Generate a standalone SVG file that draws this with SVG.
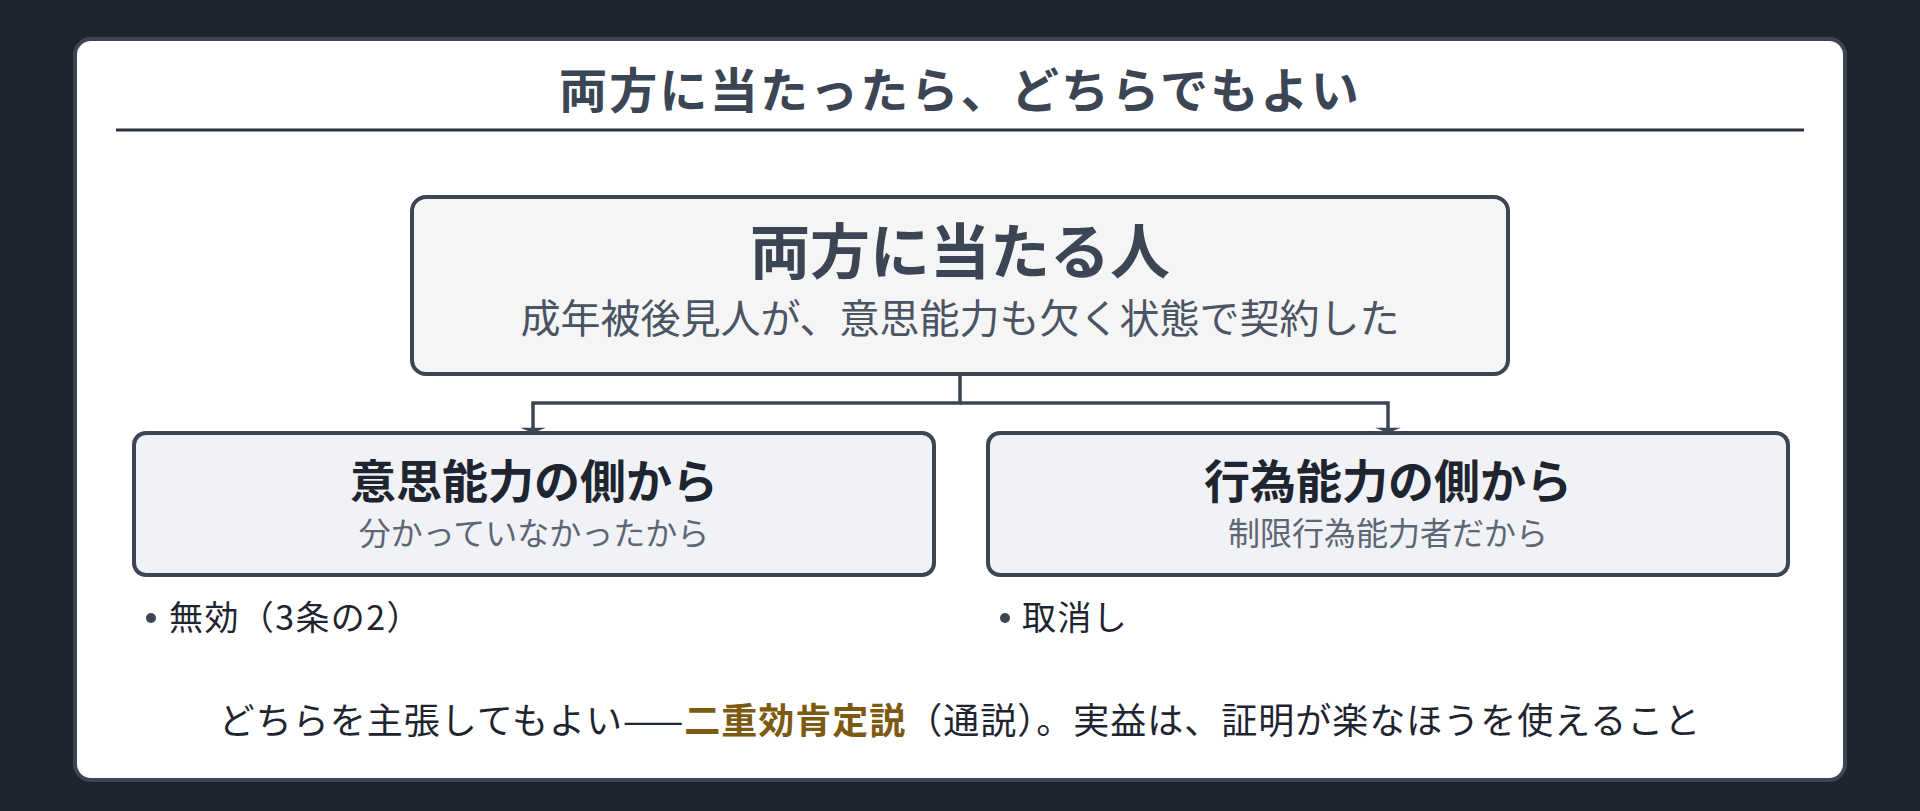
<svg xmlns="http://www.w3.org/2000/svg" width="1920" height="811" viewBox="0 0 1920 811">
  <style>
    text { font-family: "Noto Sans CJK JP", "Noto Sans", sans-serif; }
    .heading { font-size: 48px; font-weight: 700; fill: #3b4554; letter-spacing: 2.2px; }
    .main-title { font-size: 60px; font-weight: 700; fill: #3b4554; }
    .main-sub { font-size: 40px; font-weight: 400; fill: #4a5463; }
    .node-title { font-size: 46px; font-weight: 700; fill: #1f2530; }
    .node-sub { font-size: 32px; font-weight: 400; fill: #5d6674; }
    .bullet-text { font-size: 34px; font-weight: 400; fill: #1f2530; letter-spacing: 1.4px; }
    .footer { font-size: 36px; font-weight: 400; fill: #1f2530; letter-spacing: 1px; }
    .hl { font-weight: 700; fill: #7c5a11; }
    .conn { fill: none; stroke: #3b4554; stroke-width: 3.5; stroke-linejoin: miter; }
    .node-main { fill: #f5f5f5; stroke: #3b4554; stroke-width: 4; }
    .node-child { fill: #f0f2f5; stroke: #3b4554; stroke-width: 4; }
    .dot { fill: #3b4554; }
  </style>
  <defs>
    <marker id="arrow" markerUnits="userSpaceOnUse" markerWidth="14" markerHeight="30" viewBox="0 -14 7 28" refX="5" refY="0" orient="auto">
      <path d="M0,-12 L5,0 L0,12 Z" fill="#3b4554"/>
    </marker>
  </defs>

  <rect x="0" y="0" width="1920" height="811" fill="#1e252f"/>
  <rect id="card" x="75" y="39" width="1770" height="741" rx="16" ry="16" fill="#ffffff" stroke="#3b4554" stroke-width="4"/>

  <g id="heading">
    <text class="heading" x="960" y="108" text-anchor="middle">両方に当たったら、どちらでもよい</text>
    <line x1="116" y1="130" x2="1804" y2="130" stroke="#2d3440" stroke-width="3"/>
  </g>

  <g id="connectors">
    <path class="conn" d="M960,375 V403 H533 V433" marker-end="url(#arrow)"/>
    <path class="conn" d="M960,403 H1388 V433" marker-end="url(#arrow)"/>
  </g>

  <g id="node-both">
    <rect class="node-main" x="412" y="197" width="1096" height="177" rx="14" ry="14"/>
    <text class="main-title" x="960" y="274" text-anchor="middle">両方に当たる人</text>
    <text class="main-sub" x="960" y="333" text-anchor="middle">成年被後見人が、意思能力も欠く状態で契約した</text>
  </g>

  <g id="node-ishi">
    <rect class="node-child" x="134" y="433" width="800" height="142" rx="12" ry="12"/>
    <text class="node-title" x="534" y="498" text-anchor="middle">意思能力の側から</text>
    <text class="node-sub" x="534" y="545" text-anchor="middle">分かっていなかったから</text>
  </g>

  <g id="node-koui">
    <rect class="node-child" x="988" y="433" width="800" height="142" rx="12" ry="12"/>
    <text class="node-title" x="1388" y="498" text-anchor="middle">行為能力の側から</text>
    <text class="node-sub" x="1388" y="545" text-anchor="middle">制限行為能力者だから</text>
  </g>

  <g id="bullet-left">
    <circle class="dot" cx="151" cy="618" r="5"/>
    <text class="bullet-text" x="169" y="630">無効（3条の2）</text>
  </g>

  <g id="bullet-right">
    <circle class="dot" cx="1005" cy="618" r="5"/>
    <text class="bullet-text" x="1022" y="630">取消し</text>
  </g>

  <g id="footer">
    <text class="footer" x="960" y="734" text-anchor="middle">どちらを主張してもよい——<tspan class="hl">二重効肯定説</tspan>（通説）。実益は、証明が楽なほうを使えること</text>
  </g>
</svg>
